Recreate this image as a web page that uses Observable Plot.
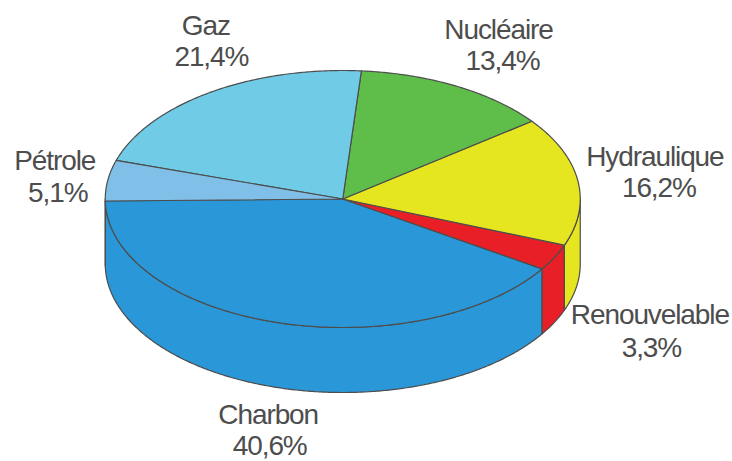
<!DOCTYPE html>
<html lang="fr">
<head>
<meta charset="utf-8">
<script src="https://cdn.jsdelivr.net/npm/d3@7"></script>
<script src="https://cdn.jsdelivr.net/npm/@observablehq/plot@0.6"></script>
<style>
html,body{margin:0;padding:0;background:#fff}
svg{display:block}
</style>
</head>
<body>
<div id="chart"></div>
<script>
// Data, in drawing order round the pie
const categories = ["Charbon", "Renouvelable", "Hydraulique", "Nucléaire", "Gaz", "Pétrole"];
const shares = [40.6, 3.3, 16.2, 13.4, 21.4, 5.1];
const shareLabels = ["40,6%", "3,3%", "16,2%", "13,4%", "21,4%", "5,1%"];

// Styles and layout
const colors = ["#2a98d8", "#e81f27", "#e5e620", "#5fbe4a", "#6fcbe6", "#80bfe8"];
const nameOffsets = [[-9, 93], [95.5, 58], [77, -24], [42, -56], [-4, -66], [-53, -19]];
const valueOffsets = [[-7.5, 123.5], [97, 90.5], [81, 7.5], [46, -25], [1.5, -35], [-50, 13]];
const width = 732, height = 461;
const centerX = 342.25, centerY = 198.5, radiusX = 237.5, radiusY = 128.5;
const depth = 65 / radiusY;         // wall height, in pie radii
const startAngle = 180.9;           // degrees, where the first slice begins
const ink = "#4d4d4d";

const rad = d => d * Math.PI / 180;
const rim = (t, drop = 0) => ({x: Math.cos(rad(t)), y: Math.sin(rad(t)) - drop});
const arc = (a, b, drop = 0) => {
  const n = Math.max(2, Math.ceil(Math.abs(b - a) * 2));
  return d3.range(n + 1).map(i => rim(a + (b - a) * i / n, drop));
};

// Slice extents from the shares
const total = d3.sum(shares);
let cursor = startAngle;
const slices = categories.map((name, i) => {
  const a = cursor;
  cursor += shares[i] / total * 360;
  return {name, a, b: cursor, mid: (a + cursor) / 2, i};
});

// Outlines for the lines: walls of the front half, then the top faces
const wallPoints = [];
const topPoints = [];
for (const s of slices) {
  for (const [lo, hi] of [[180, 360], [540, 720]]) {
    const a = Math.max(s.a, lo), b = Math.min(s.b, hi);
    if (b > a) {
      const pts = [...arc(a, b), ...arc(b, a, depth)];
      pts.push(pts[0]);
      pts.forEach(p => wallPoints.push({...p, id: `${s.name}-${lo}`, name: s.name}));
    }
  }
  [{x: 0, y: 0}, ...arc(s.a, s.b), {x: 0, y: 0}]
    .forEach(p => topPoints.push({...p, id: s.name, name: s.name}));
}

const lineOpts = {x: "x", y: "y", z: "id", fill: "name", stroke: ink, strokeWidth: 1.2, curve: "linear"};

const labelMarks = slices.flatMap(s => {
  const p = rim(s.mid);
  const label = (text, [dx, dy]) => Plot.text([{...p, text}], {
    x: "x", y: "y", text: "text", dx, dy,
    fill: ink, fontSize: 28, lineAnchor: "middle", textAnchor: "middle"
  });
  return [label(s.name, nameOffsets[s.i]), label(shareLabels[s.i], valueOffsets[s.i])];
});

const chart = Plot.plot({
  width, height,
  margin: 0,
  style: {fontFamily: "'Liberation Sans', Arial, sans-serif", letterSpacing: "-1.1px", background: "#fff"},
  x: {axis: null, domain: [-centerX / radiusX, (width - centerX) / radiusX], range: [0, width]},
  y: {axis: null, domain: [centerY / radiusY, (centerY - height) / radiusY], range: [0, height]},
  color: {domain: categories, range: colors},
  marks: [
    Plot.line(wallPoints, lineOpts),
    Plot.line(topPoints, lineOpts),
    ...labelMarks
  ]
});
document.getElementById("chart").appendChild(chart);
</script>
</body>
</html>
